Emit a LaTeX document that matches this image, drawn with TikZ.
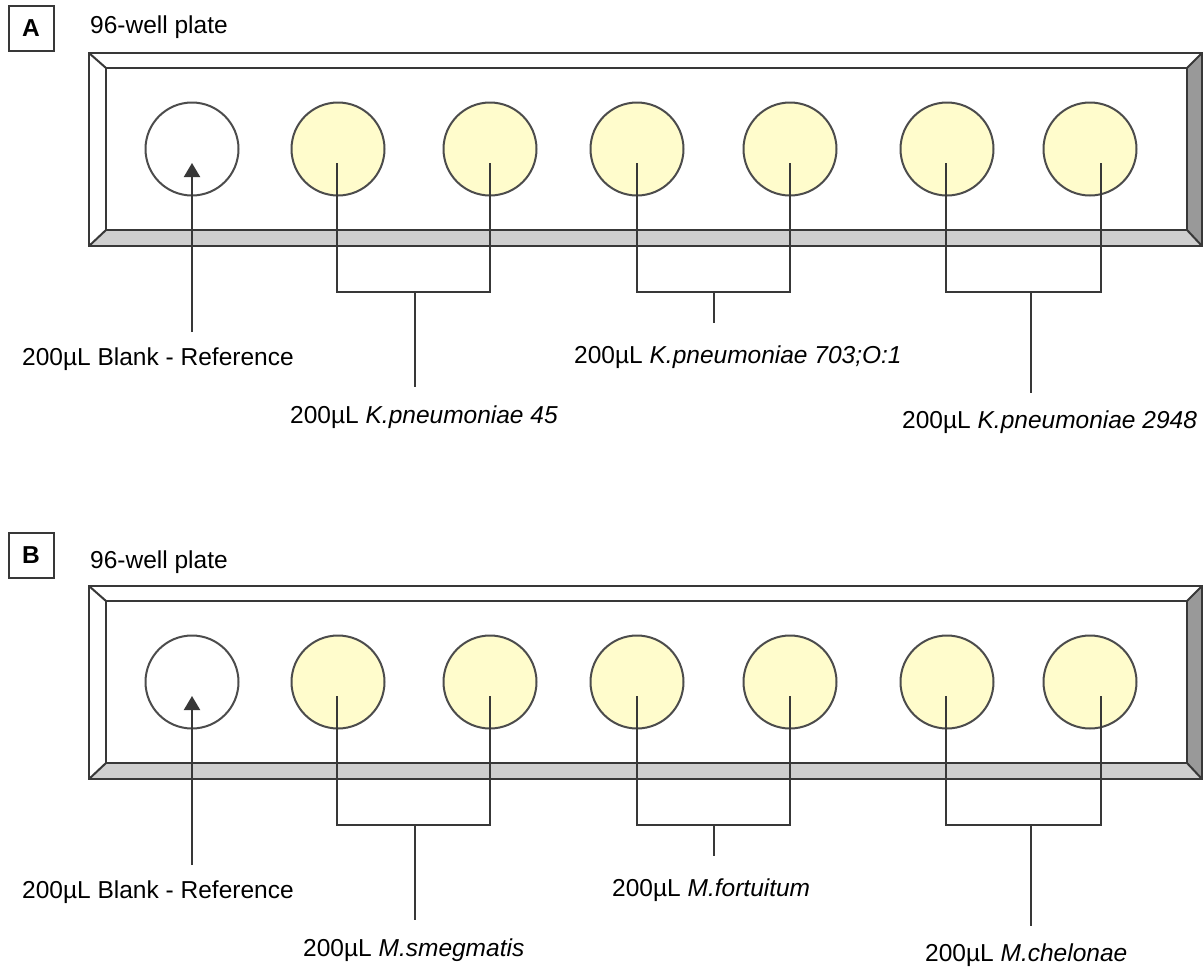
\documentclass[tikz,border=0pt]{standalone}
\usepackage{fontspec}
\setmainfont{Liberation Sans}
\usepackage{tikz}
\usetikzlibrary{arrows.meta,calc}

\begin{document}
\begin{tikzpicture}[x=1pt, y=-1pt, every node/.style={font=\fontsize{24.5}{28}\selectfont}]
    % Define styles
    \tikzset{
        well/.style={circle, draw=black!70, line width=2pt, minimum size=93pt, inner sep=0pt},
        line/.style={draw=black!78, line width=2pt},
        tag/.style={draw=black!78, line width=2pt, minimum size=45pt, inner sep=0pt, font=\fontsize{24.5}{28}\selectfont\bfseries},
        lbl/.style={anchor=base west, inner sep=0pt}
    }
    \useasboundingbox (0,0) rectangle (1203,967);

    % Two plates, B shifted down
    \foreach \p/\dy/\ty/\hy in {A/0/28.5/33, B/533/22.5/35} {
    \begin{scope}[yshift=-\dy pt]
        \node[tag] (\p tag) at (31,\ty) {\p};
        \node[lbl] (\p title) at (90,\hy) {96-well plate};

        % Draw plate with bevel
        \fill[white] (89,53) rectangle (1202,246);
        \fill[black!40] (1202,53) -- (1187,68) -- (1187,230) -- (1202,246) -- cycle;
        \fill[black!19] (89,246) -- (106,230) -- (1187,230) -- (1202,246) -- cycle;
        \draw[line] (89,53) rectangle (1202,246);
        \draw[line] (106,68) rectangle (1187,230);
        \draw[line] (89,53) -- (106,68) (1202,53) -- (1187,68)
                    (89,246) -- (106,230) (1202,246) -- (1187,230);

        % Draw wells
        \node[well] (\p w1) at (192,149) {};
        \foreach \i/\x in {2/338,3/490,4/637,5/790,6/947,7/1090}
            \node[well, fill=yellow!20] (\p w\i) at (\x,149) {};

        % Points for the connectors
        \coordinate (\p tip) at (192,163);
        \coordinate (\p foot) at (192,332);
        \foreach \i/\x in {2/337,3/490,4/637,5/790,6/946,7/1101}
            \coordinate (\p d\i) at (\x,163);
        \foreach \j/\x/\y in {1/415/387, 2/714/323, 3/1031/393} {
            \coordinate (\p j\j) at (\x,292);
            \coordinate (\p e\j) at (\x,\y);
        }

        % Draw connectors
        \draw[line, -{Triangle[length=14pt,width=16pt]}] (\p foot) -- (\p tip);
        \draw[line] (\p d2) |- (\p j1) -| (\p d3);
        \draw[line] (\p d4) |- (\p j2) -| (\p d5);
        \draw[line] (\p d6) |- (\p j3) -| (\p d7);
        \foreach \j in {1,2,3}
            \draw[line] (\p j\j) -- (\p e\j);

        \node[lbl] (\p blank) at (22,365) {200µL Blank - Reference};
    \end{scope}
    }

    % Labels of plate A
    \node[lbl] (Aone) at (290,423) {200µL \textit{K.pneumoniae 45}};
    \node[lbl] (Atwo) at (574,363) {200µL \textit{K.pneumoniae 703;O:1}};
    \node[lbl] (Athree) at (902,428) {200µL \textit{K.pneumoniae 2948}};

    % Labels of plate B
    \node[lbl] (Bone) at (303,956) {200µL \textit{M.smegmatis}};
    \node[lbl] (Btwo) at (612,896) {200µL \textit{M.fortuitum}};
    \node[lbl] (Bthree) at (925,961) {200µL \textit{M.chelonae}};
\end{tikzpicture}
\end{document}
